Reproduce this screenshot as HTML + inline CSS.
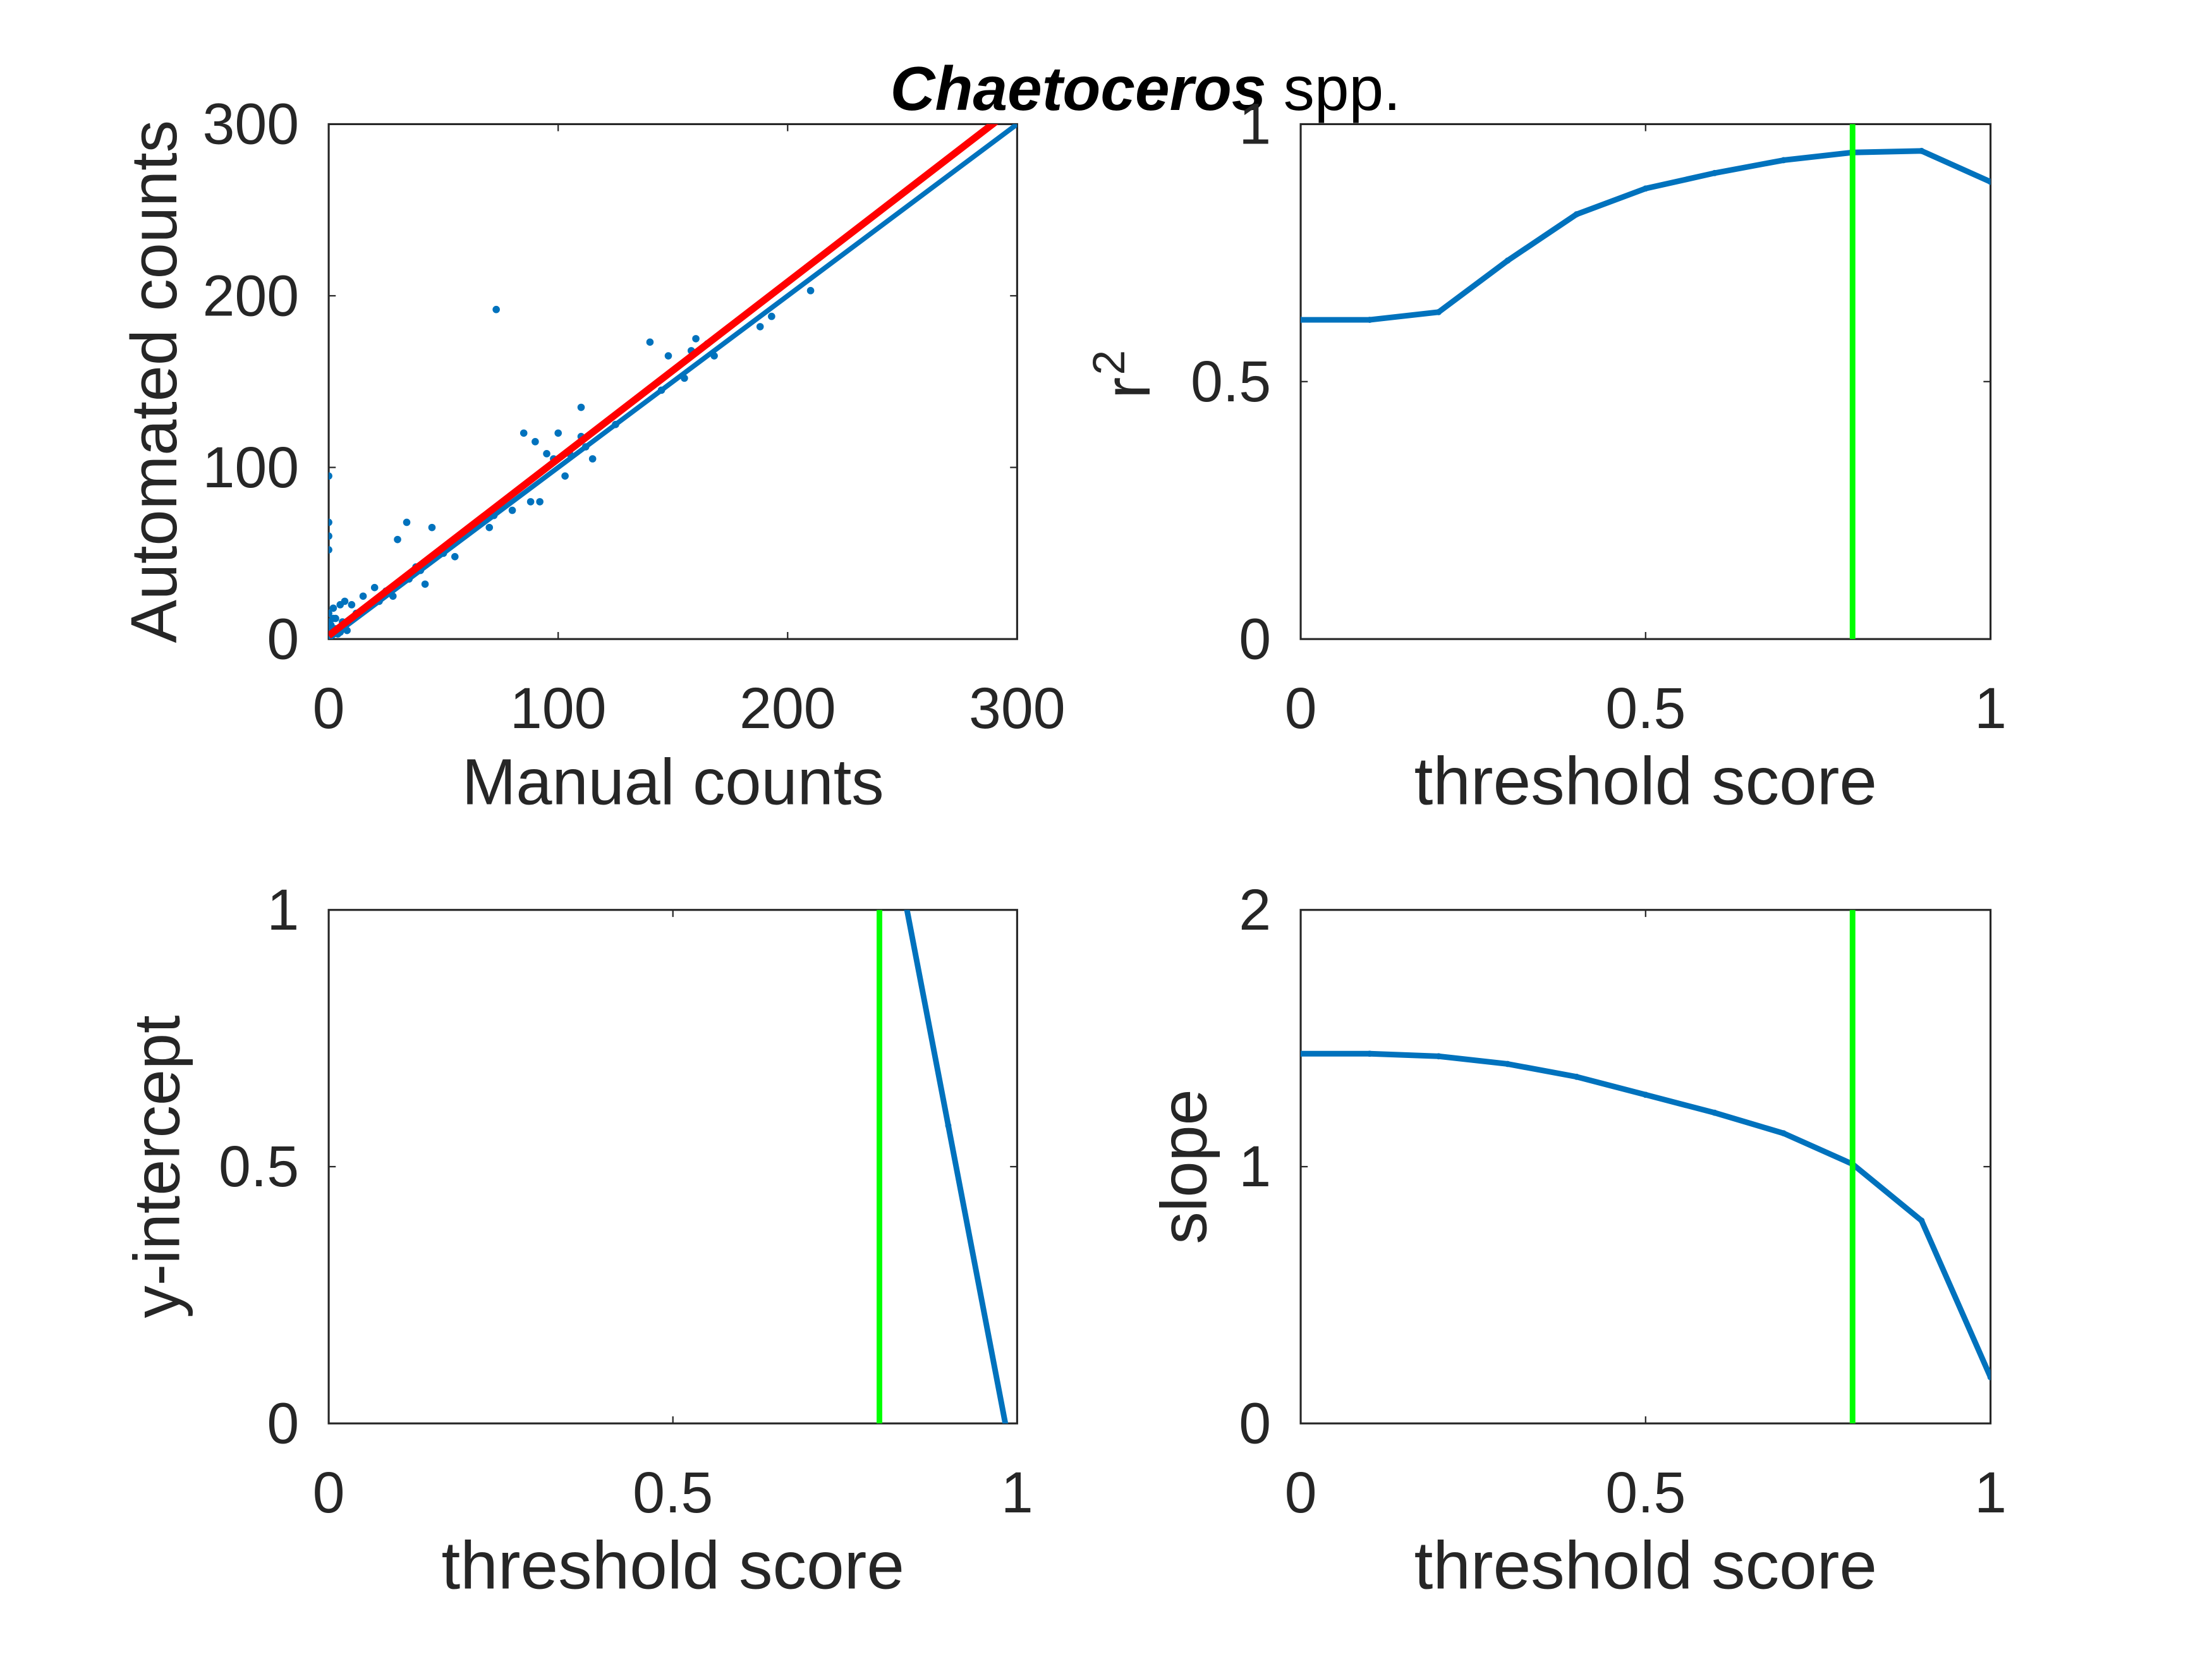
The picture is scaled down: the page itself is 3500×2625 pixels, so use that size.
<!DOCTYPE html>
<html><head><meta charset="utf-8"><style>
html,body{margin:0;padding:0;background:#fff;}
svg{display:block;}
text{font-family:"Liberation Sans",sans-serif;fill:#262626;}
</style></head><body>
<svg id="chart" width="3500" height="2625" viewBox="0 0 1568 1176" xmlns="http://www.w3.org/2000/svg">
<defs>
<clipPath id="c1"><rect x="233" y="88" width="488" height="365"/></clipPath>
<clipPath id="c2"><rect x="922" y="88" width="489" height="365"/></clipPath>
<clipPath id="c3"><rect x="233" y="645" width="488" height="364"/></clipPath>
<clipPath id="c4"><rect x="922" y="645" width="489" height="364"/></clipPath>
</defs>
<text x="812" y="78" font-size="44" text-anchor="middle"><tspan font-weight="bold" font-style="italic" fill="#000">Chaetoceros</tspan><tspan fill="#000"> spp.</tspan></text>
<g id="g"></g>
</svg>
<script>
const thresholds=[0,0.1,0.2,0.3,0.4,0.5,0.6,0.7,0.8,0.9,1.0];
const r2Values=[0.62,0.62,0.635,0.735,0.825,0.875,0.905,0.93,0.945,0.948,0.888];
const interceptValues=[3,3,3,3,2.8,2.5,2.2,1.9,1.28,0.58,-0.12];
const slopeValues=[1.44,1.44,1.43,1.40,1.35,1.28,1.21,1.13,1.01,0.79,0.18];
const chosenThreshold=0.8;
const manualCounts=[0,0,0,0,0,0,0,0,1,2,3,4,5,6,8,10,12,15,18,20,22,25,28,30,34,35,38,40,42,45,50,55,70,72,73,75,80,85,88,90,92,95,98,100,103,105,110,110,112,115,125,140,145,148,155,158,160,165,168,188,193,210,3,5,7,2,1];
const autoCounts=[95,68,60,52,15,10,5,2,8,12,6,3,20,10,5,20,15,25,20,30,22,28,25,58,68,35,42,40,32,65,50,48,65,72,192,78,75,120,80,115,80,108,105,120,95,108,135,118,112,105,125,173,145,165,152,168,175,172,165,182,188,203,12,4,22,18,8];
const fitIntercept=2, fitSlope=1.03;
const xTicks01=[0,0.5,1], xLabels01=['0','0.5','1'];
const countTicks=[0,100,200,300];
const slopeTicks=[0,1,2];

const NS='http://www.w3.org/2000/svg';
const G=document.getElementById('g');
function mk(tag,attrs,parent){const e=document.createElementNS(NS,tag);for(const k in attrs)e.setAttribute(k,attrs[k]);(parent||G).appendChild(e);return e;}
function txt(s,attrs,parent){const e=mk('text',attrs,parent);e.textContent=s;return e;}
const BLUE='#0072BD';

function axes(o){
  const g=mk('g',{});
  
  
  const sx=v=>o.x0+(v-o.xmin)/(o.xmax-o.xmin)*o.w;
  const sy=v=>o.y0+o.h-(v-o.ymin)/(o.ymax-o.ymin)*o.h;
  mk('rect',{x:o.x0,y:o.y0,width:o.w,height:o.h,fill:'none',stroke:'#262626','stroke-width':1.4},g);
  o.xt.forEach((t,i)=>{const x=sx(t);
    mk('line',{x1:x,x2:x,y1:o.y0+o.h,y2:o.y0+o.h-5,stroke:'#262626'},g);
    mk('line',{x1:x,x2:x,y1:o.y0,y2:o.y0+5,stroke:'#262626'},g);
    const l=txt(o.xl[i],{x:x,y:o.y0+o.h+63,'font-size':41,'text-anchor':'middle'},g);
    
    });
  o.yt.forEach((t,i)=>{const y=sy(t);
    mk('line',{x1:o.x0,x2:o.x0+5,y1:y,y2:y,stroke:'#262626'},g);
    mk('line',{x1:o.x0+o.w,x2:o.x0+o.w-5,y1:y,y2:y,stroke:'#262626'},g);
    const l=txt(o.yl[i],{x:o.x0-21,y:y+14,'font-size':41,'text-anchor':'end'},g);
    
    });
  const xl=txt(o.xlabel,{x:o.x0+o.w/2,y:o.y0+o.h+117,'font-size':o.xfs||46,'text-anchor':'middle'},g);
  
  
  const yl=txt(o.ylabel,{x:0,y:0,'font-size':46,'text-anchor':'middle',transform:`translate(${o.ylx},${o.y0+o.h/2}) rotate(-90)`},g);
  
  
  return {g,sx,sy};
}
function line(ax,xs,ys,clip,color,w,name){
  const d=xs.map((x,i)=>(i?'L':'M')+ax.sx(x)+','+ax.sy(ys[i])).join('');
  const p=mk('path',{d:d,fill:'none',stroke:color,'stroke-width':w,'clip-path':clip,'stroke-linejoin':'round'},ax.g);
  
  
  xs.forEach((x,i)=>{const c=mk('circle',{cx:ax.sx(x),cy:ax.sy(ys[i]),r:2.2,fill:color,'clip-path':clip},ax.g);
    
    });
}
function vline(ax,x,y0,y1,clip){
  const l=mk('line',{x1:ax.sx(x),x2:ax.sx(x),y1:ax.sy(y0),y2:ax.sy(y1),stroke:'#00FF00','stroke-width':4,'clip-path':clip},ax.g);
  
  
}

const a1=axes({name:'scatter-panel',x0:233,y0:88,w:488,h:365,xmin:0,xmax:300,ymin:0,ymax:300,xt:countTicks,xl:countTicks.map(String),yt:countTicks,yl:countTicks.map(String),xlabel:'Manual counts',ylabel:'Automated counts',ylx:125});
const l1=mk('line',{x1:a1.sx(0),y1:a1.sy(0),x2:a1.sx(300),y2:a1.sy(300),stroke:BLUE,'stroke-width':3.5,'clip-path':'url(#c1)'},a1.g);


manualCounts.forEach((m,i)=>{const c=mk('circle',{cx:a1.sx(m),cy:a1.sy(autoCounts[i]),r:2.6,fill:BLUE,'clip-path':'url(#c1)'},a1.g);
  
  });
const l2=mk('line',{x1:a1.sx(0),y1:a1.sy(fitIntercept),x2:a1.sx(300),y2:a1.sy(fitIntercept+fitSlope*300),stroke:'#FF0000','stroke-width':5,'clip-path':'url(#c1)'},a1.g);



const a2=axes({name:'r-squared-panel',x0:922,y0:88,w:489,h:365,xmin:0,xmax:1,ymin:0,ymax:1,xt:xTicks01,xl:xLabels01,yt:[0,0.5,1],yl:['0','0.5','1'],xlabel:'threshold score',xfs:48,ylabel:'',ylx:815});
const r2l=txt('r',{x:0,y:0,'font-size':46,'text-anchor':'middle',transform:'translate(815,275) rotate(-90)'},a2.g);


const r2s=txt('2',{x:0,y:0,'font-size':32,'text-anchor':'middle',transform:'translate(797,257) rotate(-90)'},a2.g);


line(a2,thresholds,r2Values,'url(#c2)',BLUE,4,'r-squared-line');
vline(a2,chosenThreshold,0,1,'url(#c2)');

const a3=axes({name:'intercept-panel',x0:233,y0:645,w:488,h:364,xmin:0,xmax:1,ymin:0,ymax:1,xt:xTicks01,xl:xLabels01,yt:[0,0.5,1],yl:['0','0.5','1'],xlabel:'threshold score',xfs:48,ylabel:'y-intercept',ylx:127});
vline(a3,chosenThreshold,0,1,'url(#c3)');
line(a3,thresholds,interceptValues,'url(#c3)',BLUE,4,'intercept-line');

const a4=axes({name:'slope-panel',x0:922,y0:645,w:489,h:364,xmin:0,xmax:1,ymin:0,ymax:2,xt:xTicks01,xl:xLabels01,yt:slopeTicks,yl:slopeTicks.map(String),xlabel:'threshold score',xfs:48,ylabel:'slope',ylx:855});
line(a4,thresholds,slopeValues,'url(#c4)',BLUE,4,'slope-line');
vline(a4,chosenThreshold,0,2,'url(#c4)');
</script>
</body></html>
